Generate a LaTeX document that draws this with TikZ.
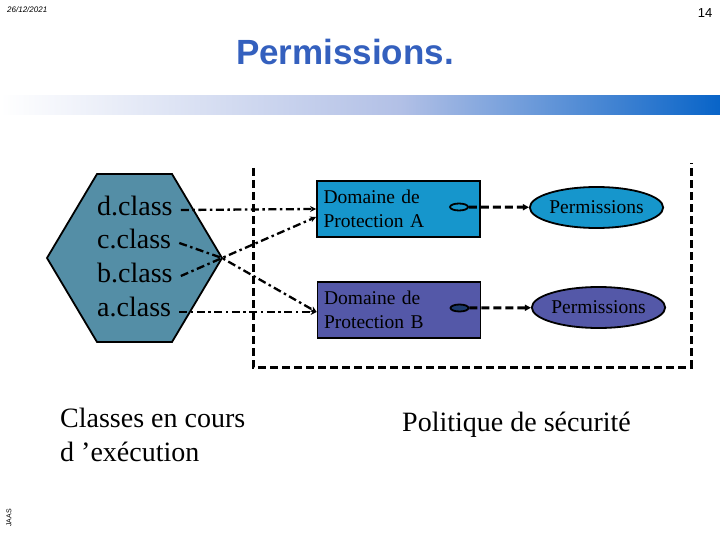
\documentclass[tikz,border=0pt]{standalone}
\usepackage{fontspec}
\setmainfont{Liberation Serif}
\newfontfamily\arialf{Liberation Sans}
\usetikzlibrary{calc,arrows.meta,shapes.geometric}
\definecolor{hexc}{RGB}{84,142,166}
\definecolor{boxA}{RGB}{22,150,204}
\definecolor{boxB}{RGB}{84,88,168}
\definecolor{titc}{RGB}{52,96,190}
\definecolor{barmid}{RGB}{178,192,230}
\definecolor{barblue}{RGB}{8,100,200}
\definecolor{portB}{RGB}{28,58,108}
\begin{document}
\begin{tikzpicture}[x=1pt,y=-1pt,
  dd/.style={line width=2.3pt, dash pattern=on 8pt off 3.5pt on 2.5pt off 3.5pt, -{Stealth[length=6pt,width=6pt]}},
  thickdash/.style={line width=3pt, dash pattern=on 8pt off 4pt},
  permarrow/.style={thickdash, -{Triangle[length=6pt,width=6pt]}},
  cls/.style={anchor=base west, inner sep=0pt, font=\fontsize{28}{32}\selectfont},
  dbox/.style={draw, line width=1.8pt, minimum width=163pt, minimum height=56pt, text width=150pt, align=left, inner xsep=6.5pt, font=\fontsize{19.5}{24}\selectfont},
  port/.style={draw, ellipse, line width=1.8pt, minimum width=18pt, minimum height=7pt, inner sep=0pt},
  perm/.style={draw, ellipse, line width=1.8pt, minimum width=127pt, minimum height=41pt, inner sep=0pt, font=\fontsize{19.5}{22}\selectfont},
  lbl/.style={anchor=base west, inner sep=0pt, align=left, font=\fontsize{28}{34}\selectfont}]
\useasboundingbox (0,0) rectangle (720,540);
% header
\node[anchor=west, inner sep=0pt, font=\arialf\itshape\fontsize{8}{9}\selectfont] (date) at (7,10) {26/12/2021};
\node[inner sep=0pt, font=\arialf\fontsize{13}{14}\selectfont] (pg) at (705,13) {14};
\node[inner sep=0pt, font=\arialf\bfseries\fontsize{35}{40}\selectfont, text=titc] (title) at (345,52) {Permissions.};
\shade[left color=white, right color=barmid] (0,96) rectangle (400,115);
\shade[left color=barmid, right color=barblue] (400,96) rectangle (720,115);
\node[rotate=90, inner sep=0pt, font=\arialf\fontsize{7}{8}\selectfont] (jaas) at (9,518) {JAAS};
% hexagon
\draw[line width=1.8pt, fill=hexc] (97,174) -- (172,174) -- (222,258) -- (172,342) -- (97,342) -- (47,258) -- cycle;
\coordinate (hexR) at (222,258);
\node[cls] (d) at (97,215) {d.class};
\node[cls] (c) at (97,248) {c.class};
\node[cls] (b) at (97,282) {b.class};
\node[cls] (a) at (97,316) {a.class};
% security policy boundary
\draw[thickdash] (253,168) -- (253,367) -- (691,367) -- (691,163);
% domains
\node[dbox, fill=boxA] (A) at (398.5,209) {Domaine de\\Protection A};
\node[dbox, fill=boxB] (B) at (399,310) {Domaine de\\Protection B};
\node[port, fill=boxA] (pA) at (459,207) {};
\node[port, fill=portB] (pB) at (459.5,308) {};
\node[perm, fill=boxA] (PA) at (596.5,207.5) {Permissions};
\node[perm, fill=boxB] (PB) at (598.5,307.5) {Permissions};
\draw[permarrow] (pA) -- (PA);
\draw[permarrow] (pB) -- (PB);
% class connectors
\draw[dd] ($(d.base east)+(8,-5)$) -- (A.west);
\draw[dd] ($(c.base east)+(8,-5)$) -- (hexR) -- ($(B.west)+(0,2)$);
\draw[dd] ($(b.base east)+(8,-6)$) -- (hexR) -- ($(A.west)+(0,8)$);
\draw[dd] ($(a.base east)+(8,-4)$) -- ($(B.west)+(0,2)$);
% labels
\node[lbl] (exec) at (60,461) {Classes en cours\\d ’exécution};
\node[lbl] (pol) at (402,431) {Politique de sécurité};
\end{tikzpicture}
\end{document}
